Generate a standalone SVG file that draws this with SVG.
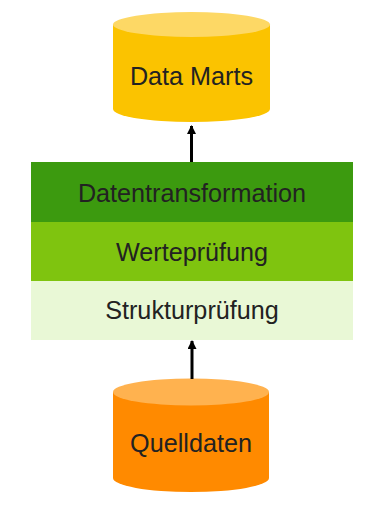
<svg xmlns="http://www.w3.org/2000/svg" width="381" height="508" viewBox="0 0 381 508">
<defs>
<style>
text{font-family:"Liberation Sans",Arial,sans-serif;font-size:25.2px;fill:#222;text-anchor:middle}
.conn{stroke:#000;stroke-width:3;fill:none}
</style>
<marker id="ah" viewBox="0 0 10 10" refX="9" refY="5" markerWidth="3.4" markerHeight="3" markerUnits="strokeWidth" orient="auto">
<path d="M0,0 L10,5 L0,10 z" fill="#000"/>
</marker>
</defs>
<rect width="381" height="508" fill="#fff"/>
<g id="datamarts">
<path d="M113,24.5 V109 A78.5,13 0 0 0 270,109 V24.5 Z" fill="#fbc300"/>
<ellipse cx="191.5" cy="24.5" rx="78.5" ry="12.5" fill="#fdd865"/>
<text x="191.5" y="85">Data Marts</text>
</g>
<g id="datentransformation">
<rect x="31" y="162" width="322" height="60" fill="#3c9a0f"/>
<text x="192" y="202">Datentransformation</text>
</g>
<g id="wertepruefung">
<rect x="31" y="222" width="322" height="59" fill="#7fc40f"/>
<text x="192" y="261">Werteprüfung</text>
</g>
<g id="strukturpruefung">
<rect x="31" y="281" width="322" height="59" fill="#e9f8d6"/>
<text x="192" y="319">Strukturprüfung</text>
</g>
<g id="quelldaten">
<path d="M113,392 V478 A78,14 0 0 0 269,478 V392 Z" fill="#ff8a00"/>
<ellipse cx="191" cy="392" rx="78" ry="13.5" fill="#ffb24f"/>
<text x="191" y="452">Quelldaten</text>
</g>
<g id="connectors">
<line class="conn" x1="191.5" y1="162" x2="191.5" y2="126" marker-end="url(#ah)"/>
<line class="conn" x1="192" y1="379" x2="192" y2="341" marker-end="url(#ah)"/>
</g>
</svg>
